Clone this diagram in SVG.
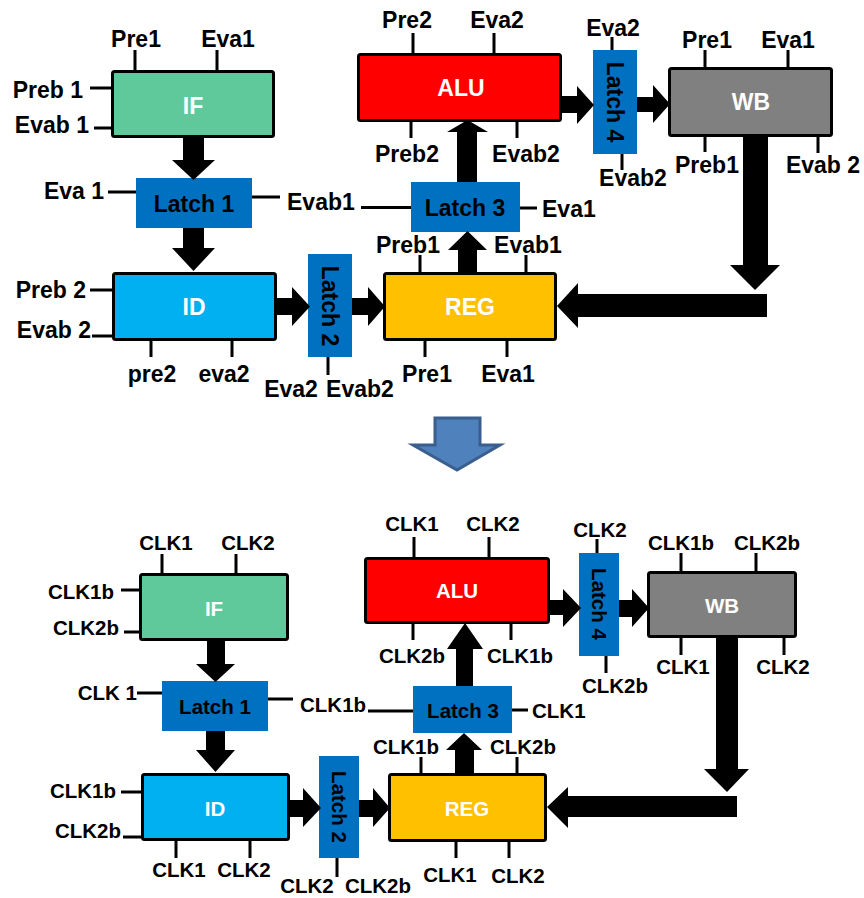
<svg xmlns="http://www.w3.org/2000/svg" width="864" height="898" viewBox="0 0 864 898">
<style>
text{font-family:"Liberation Sans",Arial,sans-serif;font-weight:bold;fill:#000}
.t{font-size:23px}
.b{font-size:20.5px}
.m{text-anchor:middle}
.e{text-anchor:end}
.w{fill:#fff;text-anchor:middle}
.box{stroke:#000;stroke-width:3}
.latch{fill:#0070C0}
.tick{stroke:#000;stroke-width:3;fill:none}
.arr{fill:#000}
</style>
<rect width="864" height="898" fill="#fff"/>

<!-- ===== TOP ===== -->
<g id="top-IF">
<rect class="box" x="112.5" y="71.5" width="161" height="65" rx="2" fill="#5FC99B"/>
<text class="t w" x="193" y="114">IF</text>
<path class="tick" d="M135 50V70M217 50V70M90 88H111M94 128H111"/>
<text class="t m" x="136" y="47">Pre1</text>
<text class="t m" x="228" y="47">Eva1</text>
<text class="t e" x="83" y="98">Preb 1</text>
<text class="t e" x="89" y="133">Evab 1</text>
</g>
<g id="top-Latch1">
<rect class="latch" x="136" y="178" width="116" height="50"/>
<text class="t m" x="194" y="212">Latch 1</text>
<path class="tick" d="M108 192H136M252 197H280"/>
<text class="t e" x="104" y="199">Eva 1</text>
<text class="t" x="287" y="210">Evab1</text>
</g>
<g id="top-ID">
<rect class="box" x="113.5" y="273.5" width="162" height="66" rx="2" fill="#00B0F0"/>
<text class="t w" x="194" y="315">ID</text>
<path class="tick" d="M90 290H113M92 336H113M151 340V357M232 340V357"/>
<text class="t e" x="86" y="298">Preb 2</text>
<text class="t e" x="91" y="338">Evab 2</text>
<text class="t m" x="152" y="382">pre2</text>
<text class="t m" x="224" y="382">eva2</text>
</g>
<g id="top-Latch2">
<rect class="latch" x="308" y="254" width="44" height="103"/>
<text class="t m" transform="translate(330 306) rotate(90)" y="8">Latch 2</text>
<path class="tick" d="M328 357V375"/>
<text class="t m" x="291" y="397">Eva2</text>
<text class="t m" x="360" y="397">Evab2</text>
</g>
<g id="top-REG">
<rect class="box" x="384.5" y="273.5" width="171" height="66" rx="2" fill="#FFC000"/>
<text class="t w" x="470" y="315">REG</text>
<path class="tick" d="M420 255V273M526 255V273M425 340V357M507 340V357"/>
<text class="t m" x="408" y="253">Preb1</text>
<text class="t m" x="528" y="253">Evab1</text>
<text class="t m" x="427" y="382">Pre1</text>
<text class="t m" x="508" y="382">Eva1</text>
</g>
<g id="top-Latch3">
<rect class="latch" x="411" y="182" width="109" height="50"/>
<text class="t m" x="465" y="216">Latch 3</text>
<path class="tick" d="M361 207.5H411M520 208H537"/>
<text class="t" x="542" y="217">Eva1</text>
</g>
<g id="top-ALU">
<rect class="box" x="358.5" y="54.5" width="202" height="66" rx="2" fill="#FF0000"/>
<text class="t w" x="461" y="96">ALU</text>
<path class="tick" d="M413 33V54M494 33V54M411 121V138M517 121V138"/>
<text class="t m" x="407" y="28">Pre2</text>
<text class="t m" x="497" y="28">Eva2</text>
<text class="t m" x="407" y="162">Preb2</text>
<text class="t m" x="526" y="162">Evab2</text>
</g>
<g id="top-Latch4">
<rect class="latch" x="593" y="50" width="44" height="104"/>
<text class="t m" transform="translate(615 102) rotate(90)" y="8">Latch 4</text>
<path class="tick" d="M612 37V50M622 154V170"/>
<text class="t m" x="613" y="36">Eva2</text>
<text class="t m" x="633" y="186">Evab2</text>
</g>
<g id="top-WB">
<rect class="box" x="669.5" y="68.5" width="162" height="67" rx="2" fill="#808080"/>
<text class="t w" x="751" y="110">WB</text>
<path class="tick" d="M705 50V68M788 50V68M705 136V152M818 136V153"/>
<text class="t m" x="707" y="48">Pre1</text>
<text class="t m" x="788" y="48">Eva1</text>
<text class="t m" x="707" y="173">Preb1</text>
<text class="t m" x="823" y="173">Evab 2</text>
</g>

<g id="transition">
<polygon points="435,418 480,418 480,445 500,445 457,470 413,445 435,445" fill="#4F81BD" stroke="#3A5F8C" stroke-width="3"/>
</g>

<!-- ===== BOTTOM ===== -->
<g id="bot-IF">
<rect class="box" x="140.5" y="574.5" width="147" height="65" rx="2" fill="#5FC99B"/>
<text class="b w" x="214" y="616">IF</text>
<path class="tick" d="M162 554V574M236 554V574M121 590H140M124 632H140"/>
<text class="b m" x="166" y="550">CLK1</text>
<text class="b m" x="248" y="550">CLK2</text>
<text class="b e" x="114" y="599">CLK1b</text>
<text class="b e" x="119" y="635">CLK2b</text>
</g>
<g id="bot-Latch1">
<rect class="latch" x="162" y="681" width="106" height="50"/>
<text class="b m" x="215" y="714">Latch 1</text>
<path class="tick" d="M137 693H162M268 699H293"/>
<text class="b e" x="137" y="700">CLK 1</text>
<text class="b" x="300" y="712">CLK1b</text>
</g>
<g id="bot-ID">
<rect class="box" x="142.5" y="774.5" width="146" height="65" rx="2" fill="#00B0F0"/>
<text class="b w" x="215" y="816">ID</text>
<path class="tick" d="M121 792H142M123 837H142M176 840V858M250 840V858"/>
<text class="b e" x="116" y="798">CLK1b</text>
<text class="b e" x="121" y="838">CLK2b</text>
<text class="b m" x="179" y="877">CLK1</text>
<text class="b m" x="244" y="877">CLK2</text>
</g>
<g id="bot-Latch2">
<rect class="latch" x="319" y="756" width="40" height="102"/>
<text class="b m" transform="translate(339 807) rotate(90)" y="7">Latch 2</text>
<path class="tick" d="M337 858V877"/>
<text class="b m" x="307" y="893">CLK2</text>
<text class="b m" x="378" y="893">CLK2b</text>
</g>
<g id="bot-REG">
<rect class="box" x="389.5" y="774.5" width="156" height="66" rx="2" fill="#FFC000"/>
<text class="b w" x="467" y="816">REG</text>
<path class="tick" d="M421 757V775M517 757V775M456 841V858M509 841V858"/>
<text class="b m" x="406" y="754">CLK1b</text>
<text class="b m" x="523" y="754">CLK2b</text>
<text class="b m" x="450" y="882">CLK1</text>
<text class="b m" x="518" y="883">CLK2</text>
</g>
<g id="bot-Latch3">
<rect class="latch" x="413" y="686" width="99" height="47"/>
<text class="b m" x="463" y="718">Latch 3</text>
<path class="tick" d="M368 711H413M512 710H528"/>
<text class="b" x="532" y="718">CLK1</text>
</g>
<g id="bot-ALU">
<rect class="box" x="365.5" y="558.5" width="183" height="64" rx="2" fill="#FF0000"/>
<text class="b w" x="457" y="598">ALU</text>
<path class="tick" d="M414 537V558M489 537V558M413 623V640M511 623V640"/>
<text class="b m" x="412" y="531">CLK1</text>
<text class="b m" x="493" y="531">CLK2</text>
<text class="b m" x="412" y="663">CLK2b</text>
<text class="b m" x="520" y="663">CLK1b</text>
</g>
<g id="bot-Latch4">
<rect class="latch" x="579" y="553" width="40" height="103"/>
<text class="b m" transform="translate(599 604) rotate(90)" y="7">Latch 4</text>
<path class="tick" d="M597 539V553M606 656V673"/>
<text class="b m" x="600" y="537">CLK2</text>
<text class="b m" x="615" y="693">CLK2b</text>
</g>
<g id="bot-WB">
<rect class="box" x="648.5" y="572.5" width="147" height="64" rx="2" fill="#808080"/>
<text class="b w" x="722" y="613">WB</text>
<path class="tick" d="M681 553V572M756 553V572M681 637V655M784 637V655"/>
<text class="b m" x="681" y="550">CLK1b</text>
<text class="b m" x="767" y="550">CLK2b</text>
<text class="b m" x="683" y="674">CLK1</text>
<text class="b m" x="783" y="674">CLK2</text>
</g>

<g id="connectors">
<!-- top -->
<polygon class="arr" points="183,137 204,137 204,160 215,160 193.5,180 172,160 183,160"/>
<polygon class="arr" points="183,228 204,228 204,248 215,248 193.5,271 172,248 183,248"/>
<polygon class="arr" points="276,298 292,298 292,287 310,306.5 292,326 292,315 276,315"/>
<polygon class="arr" points="352,298 368,298 368,287 385,306.5 368,326 368,315 352,315"/>
<polygon class="arr" points="458,273 477,273 477,250 487,250 467.5,231 448,250 458,250"/>
<polygon class="arr" points="457,182 477,182 477,132 488,132 467.5,120 447,132 457,132"/>
<polygon class="arr" points="560,96 577,96 577,86 594,105 577,124 577,113 560,113"/>
<polygon class="arr" points="637,97 653,97 653,85 670,104 653,123 653,112 637,112"/>
<polygon class="arr" points="743,136 768,136 768,265 780,265 755,290 730,265 743,265"/>
<polygon class="arr" points="767,294 767,317 578,317 578,328 557,306 578,283 578,294"/>
<!-- bottom -->
<polygon class="arr" points="207,640 225,640 225,664 235,664 215.5,682 196,664 207,664"/>
<polygon class="arr" points="206,731 225,731 225,750 235,750 215.5,772 196,750 206,750"/>
<polygon class="arr" points="288,800 303,800 303,788 321,808 303,827 303,817 288,817"/>
<polygon class="arr" points="359,800 373,800 373,788 390,808 373,827 373,817 359,817"/>
<polygon class="arr" points="455,775 474,775 474,750 482,750 464,733 446,750 455,750"/>
<polygon class="arr" points="456,686 473,686 473,649 483,649 465,623 447,649 456,649"/>
<polygon class="arr" points="548,600 563,600 563,589 581,608 563,627 563,615 548,615"/>
<polygon class="arr" points="619,600 632,600 632,589 649,608 632,627 632,617 619,617"/>
<polygon class="arr" points="716,637 738,637 738,769 749,769 727,792 704,769 716,769"/>
<polygon class="arr" points="737,796 737,817 568,817 568,828 547,807 568,787 568,796"/>
</g>
</svg>
